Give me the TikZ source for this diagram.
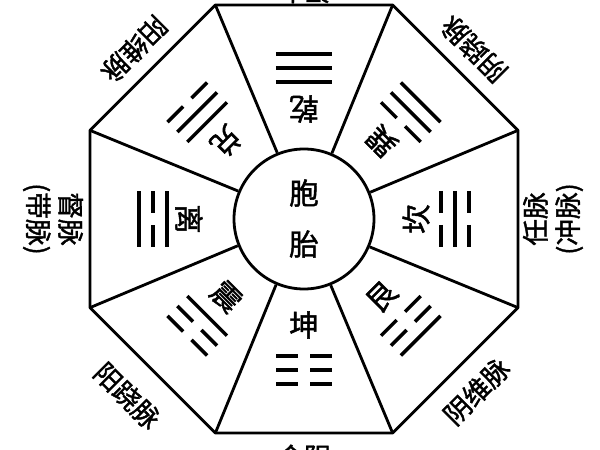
\documentclass[tikz,border=0pt]{standalone}
\usepackage{fontspec}
\newfontfamily\cjk{Noto Sans CJK SC}[FakeBold=1.5,AutoFakeBold=1.5]
\newcommand\guayao[2]{%
  \ifnum#2=1
    \draw[yao] (-28,#1) -- (28,#1);
  \else
    \draw[yao] (-28,#1) -- (-6,#1);
    \draw[yao] (6,#1) -- (28,#1);
  \fi}
\newcommand\drawgua[4]{%
  \begin{scope}[rotate=#1-90]
    \guayao{137}{#2}\guayao{151}{#3}\guayao{165}{#4}
  \end{scope}}
\begin{document}
\begin{tikzpicture}[x=0.05cm,y=0.05cm,
  frame/.style={line width=4pt,line join=round},
  yao/.style={line width=5pt},
  gua/.style={font=\cjk\fontsize{42}{42}\selectfont,inner sep=0pt},
  mai/.style={font=\cjk\fontsize{38}{46}\selectfont,align=center,inner sep=0pt}]
\clip (-304,-231) rectangle (296,219);
\def\R{231.6}
\foreach \k in {0,...,7}{
  \coordinate (v\k) at ({22.5+45*\k}:\R);
}
\draw[frame] (v0) -- (v1) -- (v2) -- (v3) -- (v4) -- (v5) -- (v6) -- (v7) -- cycle;
\node[circle,draw,frame,minimum size=7cm,inner sep=0pt] (hub) at (0,0) {};
\foreach \k in {0,...,7}{
  \draw[frame] (hub.{22.5+45*\k}) -- (v\k);
}
% centre
\node[gua] (bao) at (0,26) {胞};
\node[gua] (tai) at (0,-25) {胎};
% sector names
\node[gua,rotate=180] (qian) at (90:110) {乾};
\node[gua,rotate=135] (xun) at (45:110) {巽};
\node[gua,rotate=90] (kan) at (0:112) {坎};
\node[gua,rotate=45] (gen) at (-45:110) {艮};
\node[gua,rotate=0] (kun) at (-90:106) {坤};
\node[gua,rotate=-45] (zhen) at (-135:110) {震};
\node[gua,rotate=270] (li) at (180:115) {离};
\node[gua,rotate=225] (dui) at (135:110) {兑};
% trigrams (inner line = bottom line)
\drawgua{90}{1}{1}{1}
\drawgua{45}{0}{1}{1}
\drawgua{0}{0}{1}{0}
\drawgua{-45}{0}{0}{1}
\drawgua{-90}{0}{0}{0}
\drawgua{-135}{1}{0}{0}
\drawgua{180}{1}{0}{1}
\drawgua{135}{1}{1}{0}
% outer labels
\node[mai,rotate=180] (top) at (90:228) {泥丸};
\node[mai] (bottom) at (-90:238) {会阴};
\node[mai,rotate=90] (right) at (0:249) {任脉\\(冲脉)};
\node[mai,rotate=270] (left) at (180:251) {督脉\\(带脉)};
\node[mai,rotate=135] (ur) at (45:240) {阴跷脉};
\node[mai,rotate=45] (lr) at (-45:244) {阴维脉};
\node[mai,rotate=-45] (ll) at (-135:250) {阳跷脉};
\node[mai,rotate=225] (ul) at (135:240) {阳维脉};
\end{tikzpicture}
\end{document}
